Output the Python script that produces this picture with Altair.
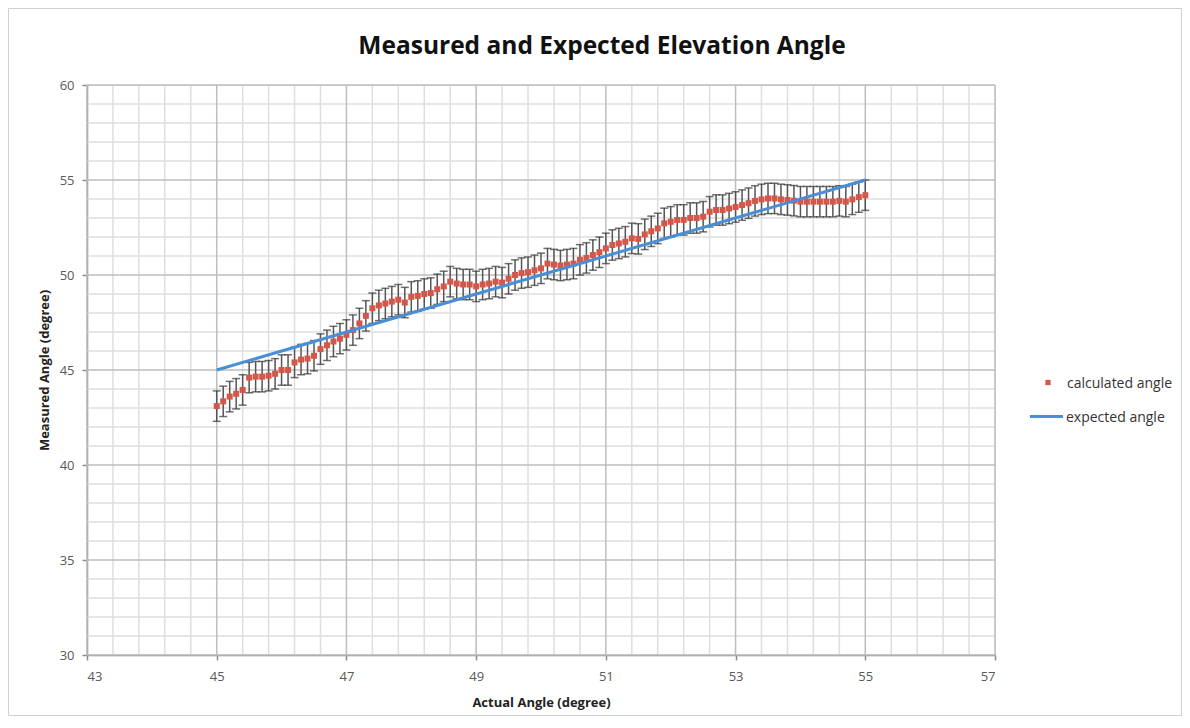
import altair as alt
import numpy as np
import pandas as pd

# ---- data ----
ACTUAL = [
    45.0, 45.1, 45.2, 45.3, 45.4, 45.5, 45.6, 45.7, 45.8, 45.9,
    46.0, 46.1, 46.2, 46.3, 46.4, 46.5, 46.6, 46.7, 46.8, 46.9,
    47.0, 47.1, 47.2, 47.3, 47.4, 47.5, 47.6, 47.7, 47.8, 47.9,
    48.0, 48.1, 48.2, 48.3, 48.4, 48.5, 48.6, 48.7, 48.8, 48.9,
    49.0, 49.1, 49.2, 49.3, 49.4, 49.5, 49.6, 49.7, 49.8, 49.9,
    50.0, 50.1, 50.2, 50.3, 50.4, 50.5, 50.6, 50.7, 50.8, 50.9,
    51.0, 51.1, 51.2, 51.3, 51.4, 51.5, 51.6, 51.7, 51.8, 51.9,
    52.0, 52.1, 52.2, 52.3, 52.4, 52.5, 52.6, 52.7, 52.8, 52.9,
    53.0, 53.1, 53.2, 53.3, 53.4, 53.5, 53.6, 53.7, 53.8, 53.9,
    54.0, 54.1, 54.2, 54.3, 54.4, 54.5, 54.6, 54.7, 54.8, 54.9,
    55.0,
]
CALCULATED = [
    43.10, 43.35, 43.60, 43.75, 43.95, 44.60, 44.65, 44.65, 44.70, 44.80,
    45.00, 45.00, 45.40, 45.55, 45.60, 45.75, 46.10, 46.30, 46.50, 46.65,
    46.85, 47.10, 47.45, 47.85, 48.25, 48.40, 48.50, 48.60, 48.70, 48.55,
    48.85, 48.90, 49.00, 49.05, 49.25, 49.40, 49.65, 49.55, 49.50, 49.50,
    49.40, 49.50, 49.55, 49.65, 49.60, 49.80, 50.00, 50.10, 50.15, 50.25,
    50.35, 50.60, 50.55, 50.50, 50.55, 50.60, 50.80, 50.90, 51.05, 51.20,
    51.40, 51.58, 51.66, 51.75, 51.93, 51.90, 52.14, 52.30, 52.45, 52.72,
    52.80, 52.90, 52.90, 53.00, 53.00, 53.07, 53.33, 53.42, 53.42, 53.50,
    53.58, 53.68, 53.78, 53.90, 53.98, 54.03, 54.03, 53.98, 53.95, 53.91,
    53.86, 53.86, 53.86, 53.86, 53.86, 53.86, 53.90, 53.86, 53.98, 54.10,
    54.20,
]
ERR = 0.8
EXPECTED_X = [45, 55]
EXPECTED_Y = [45, 55]

X_TICKS = [43, 45, 47, 49, 51, 53, 55, 57]
Y_TICKS = [30, 35, 40, 45, 50, 55, 60]

TITLE = "Measured and Expected Elevation Angle"

# ---- styling ----
W, H = 908, 570
RED = "#D4574A"
BLUE = "#4A8FD6"
BAR = "#555555"
FONT = "Open Sans"

xs = alt.Scale(domain=[43, 57], nice=False, zero=False)
ys = alt.Scale(domain=[30, 60], nice=False, zero=False)

x_axis = alt.Axis(
    values=X_TICKS, grid=False, title="Actual Angle (degree)",
    domainColor="#8c8c8c", domainWidth=1.5, tickColor="#8c8c8c", tickSize=5,
    tickWidth=1.5, labelFont=FONT, labelFontSize=13, labelColor="#595959",
    labelPadding=10, titleFont=FONT, titleFontSize=13, titleFontWeight="bold",
    titleColor="#222222", titlePadding=13,
)
y_axis = alt.Axis(
    values=Y_TICKS, grid=False, title="Measured Angle (degree)",
    domainColor="#8c8c8c", domainWidth=1.5, tickColor="#8c8c8c", tickSize=5,
    tickWidth=1.5, labelFont=FONT, labelFontSize=13, labelColor="#595959",
    labelPadding=8, titleFont=FONT, titleFontSize=13, titleFontWeight="bold",
    titleColor="#222222", titlePadding=8,
)


def X(field):
    return alt.X(field, scale=xs, axis=x_axis)


def Y(field):
    return alt.Y(field, scale=ys, axis=y_axis)


df = pd.DataFrame({"x": ACTUAL, "y": CALCULATED})
df["lo"] = df["y"] - ERR
df["hi"] = df["y"] + ERR
exp_df = pd.DataFrame({"x": EXPECTED_X, "y": EXPECTED_Y})

minor_x = [v for v in np.round(np.arange(43, 57.001, 0.4), 2) if v not in X_TICKS]
minor_y = [v for v in range(30, 61) if v not in Y_TICKS]

grid_minor_x = alt.Chart(pd.DataFrame({"v": minor_x})).mark_rule(
    color="#dedede", strokeWidth=1.5
).encode(x=X("v:Q"))
grid_minor_y = alt.Chart(pd.DataFrame({"v": minor_y})).mark_rule(
    color="#dedede", strokeWidth=1.5
).encode(y=Y("v:Q"))
grid_major_x = alt.Chart(pd.DataFrame({"v": X_TICKS})).mark_rule(
    color="#bdbdbd", strokeWidth=1.5
).encode(x=X("v:Q"))
grid_major_y = alt.Chart(pd.DataFrame({"v": Y_TICKS})).mark_rule(
    color="#bdbdbd", strokeWidth=1.5
).encode(y=Y("v:Q"))

base = alt.Chart(df)
bars = base.mark_rule(color=BAR, strokeWidth=1.5).encode(
    x=X("x:Q"), y=Y("lo:Q"), y2="hi:Q",
)
cap_lo = base.mark_tick(orient="horizontal", size=8, thickness=1.5, color="#333333").encode(
    x=X("x:Q"), y=Y("lo:Q")
)
cap_hi = base.mark_tick(orient="horizontal", size=8, thickness=1.5, color="#333333").encode(
    x=X("x:Q"), y=Y("hi:Q")
)
points = base.mark_square(size=36, color=RED, opacity=1).encode(
    x=X("x:Q"), y=Y("y:Q")
)
line = alt.Chart(exp_df).mark_line(color=BLUE, strokeWidth=3).encode(
    x=X("x:Q"), y=Y("y:Q")
)

one = pd.DataFrame({"a": [0]})

# ---- chart title (as a text mark so the outer frame does not push it) ----
title = alt.Chart(one).mark_text(
    text=TITLE, align="center", baseline="middle", font=FONT, fontSize=24.5,
    fontWeight="bold", color="#111111"
).encode(x=alt.value(515), y=alt.value(-38))

# ---- legend (drawn manually to keep the Excel-style symbols) ----
leg_pt = alt.Chart(one).mark_square(size=28, color=RED, opacity=1).encode(
    x=alt.value(961), y=alt.value(297.5)
)
leg_pt_txt = alt.Chart(one).mark_text(
    text="calculated angle", align="left", baseline="middle", font=FONT,
    fontSize=14, color="#333333"
).encode(x=alt.value(980), y=alt.value(299))
leg_ln = alt.Chart(one).mark_rule(color=BLUE, strokeWidth=3).encode(
    x=alt.value(943), x2=alt.value(976), y=alt.value(331.5)
)
leg_ln_txt = alt.Chart(one).mark_text(
    text="expected angle", align="left", baseline="middle", font=FONT,
    fontSize=14, color="#333333"
).encode(x=alt.value(979), y=alt.value(333))

frame = alt.Chart(one).mark_rect(
    fillOpacity=0, stroke="#d0d0d0", strokeWidth=1
).encode(
    x=alt.value(-78.5), x2=alt.value(W + 186.5),
    y=alt.value(-76.5), y2=alt.value(H + 60.5),
)

chart = alt.layer(
    grid_minor_x, grid_minor_y, grid_major_x, grid_major_y,
    bars, cap_lo, cap_hi, points, line,
    leg_pt, leg_pt_txt, leg_ln, leg_ln_txt, title, frame,
).properties(
    width=W, height=H,
    autosize=alt.AutoSizeParams(type="none"),
    padding={"left": 79, "top": 77, "right": 187, "bottom": 61},
).configure_view(stroke=None).configure(background="white")

chart.save("out.html", embed_options={"renderer": "svg", "actions": False})
